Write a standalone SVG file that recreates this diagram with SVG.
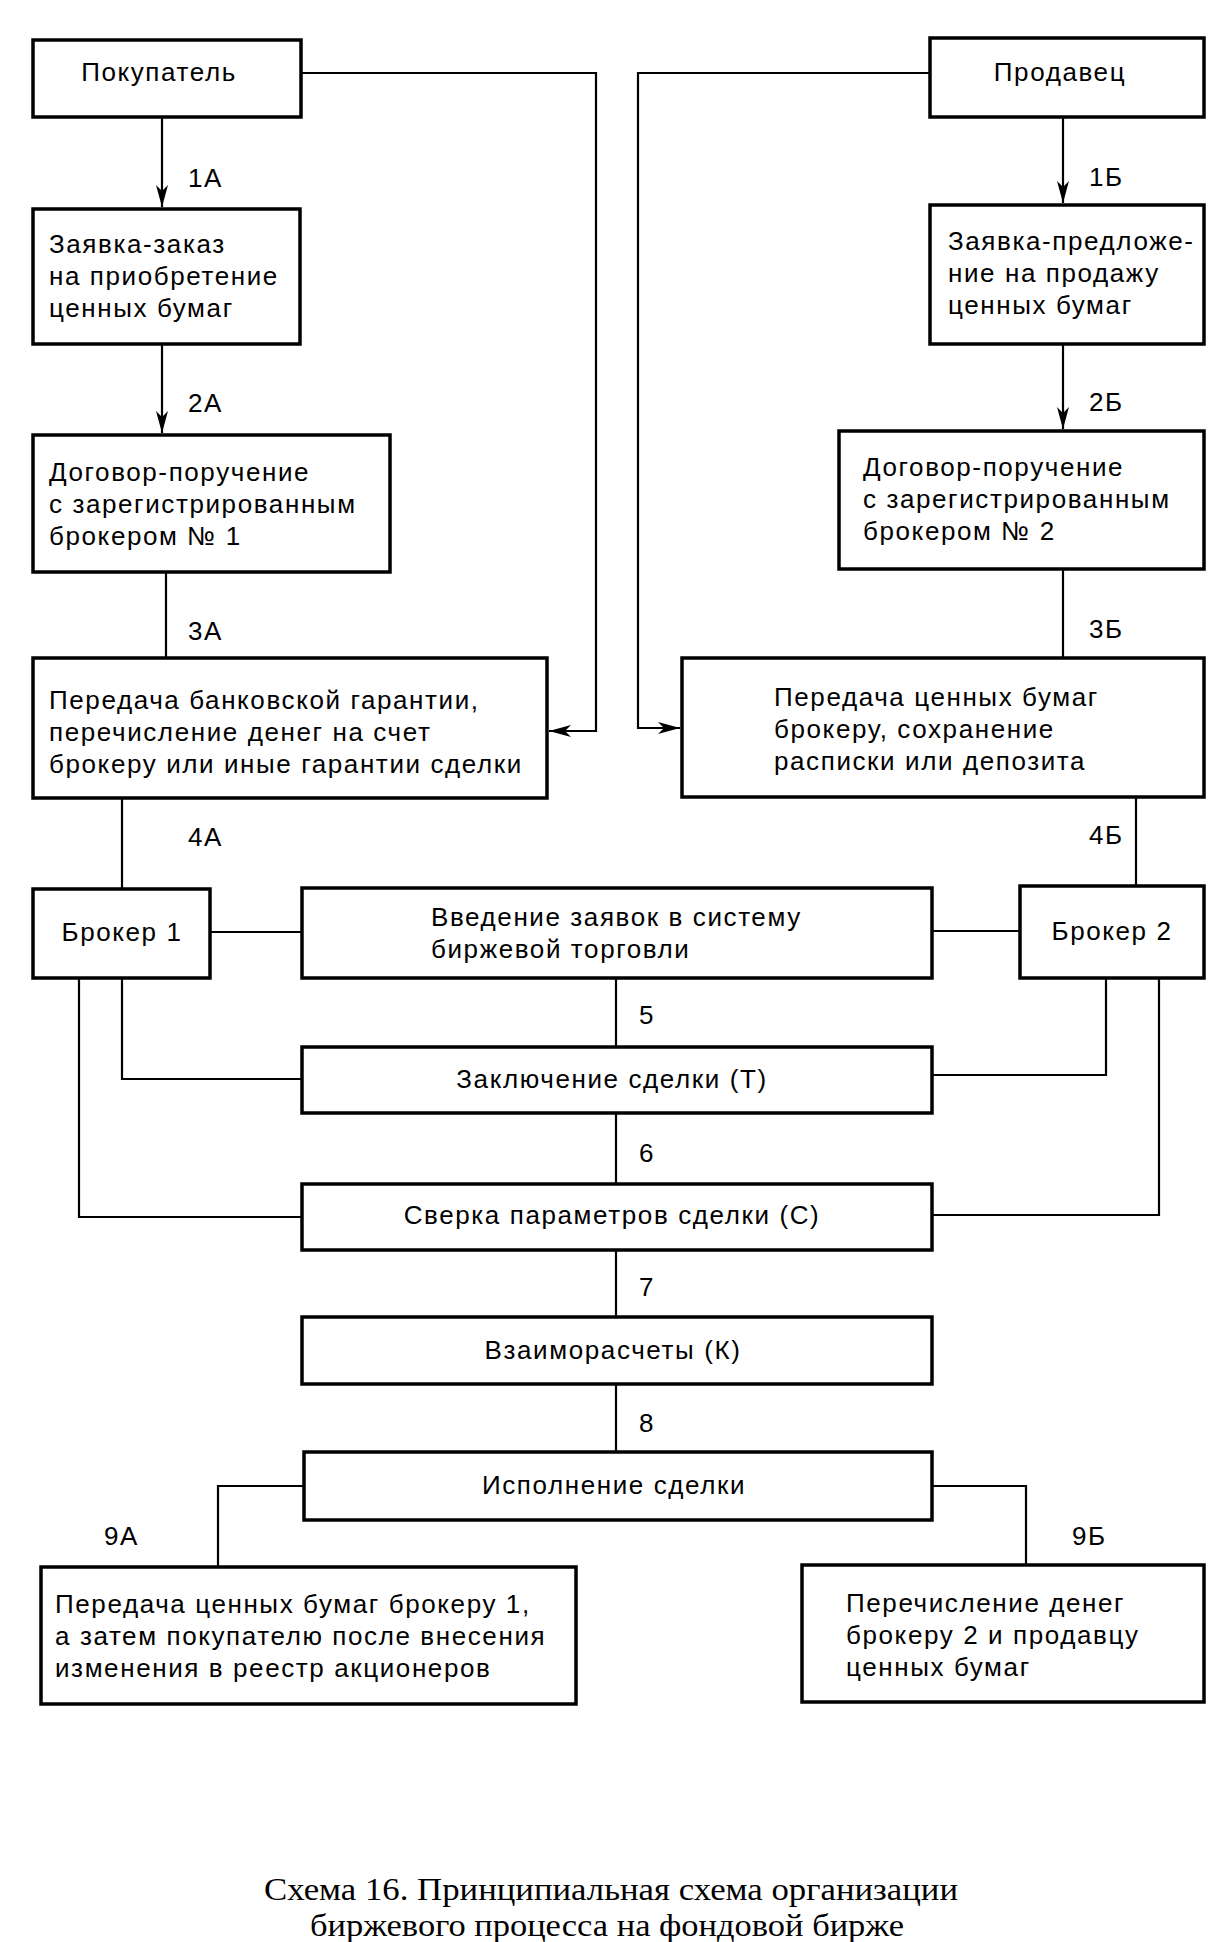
<svg xmlns="http://www.w3.org/2000/svg" width="1224" height="1942" viewBox="0 0 1224 1942">
<style>
.box{fill:#fff;stroke:#000;stroke-width:3.5}
.ln{fill:none;stroke:#000;stroke-width:2.2}
.t{font-family:"Liberation Sans",Arial,sans-serif;font-size:26px;letter-spacing:1.6px;fill:#000}
.c{text-anchor:middle}
.cap{font-family:"Liberation Serif","Times New Roman",serif;font-size:31px;fill:#000;text-anchor:middle}
</style>
<defs>
<marker id="ah" viewBox="0 0 22 12" refX="22" refY="6" markerWidth="22" markerHeight="12" markerUnits="userSpaceOnUse" orient="auto">
<path d="M0,0 L22,6 L0,12 L6,6 Z" fill="#000"/>
</marker>
</defs>
<rect width="1224" height="1942" fill="#fff"/>
<g id="connectors">
<path class="ln" d="M162,117 V207" marker-end="url(#ah)"/>
<path class="ln" d="M162,344 V433" marker-end="url(#ah)"/>
<path class="ln" d="M166,572 V658"/>
<path class="ln" d="M122,798 V889"/>
<path class="ln" d="M210,932 H302"/>
<path class="ln" d="M932,931 H1020"/>
<path class="ln" d="M616,978 V1047"/>
<path class="ln" d="M616,1113 V1184"/>
<path class="ln" d="M616,1250 V1317"/>
<path class="ln" d="M616,1384 V1452"/>
<path class="ln" d="M122,978 V1079 H302"/>
<path class="ln" d="M79,978 V1217 H302"/>
<path class="ln" d="M1106,978 V1075 H932"/>
<path class="ln" d="M1159,978 V1215 H932"/>
<path class="ln" d="M304,1486 H218 V1567"/>
<path class="ln" d="M932,1486 H1026 V1565"/>
<path class="ln" d="M1063,117 V203" marker-end="url(#ah)"/>
<path class="ln" d="M1063,344 V429" marker-end="url(#ah)"/>
<path class="ln" d="M1063,569 V658"/>
<path class="ln" d="M1136,797 V886"/>
<path class="ln" d="M301,73 H596 V731 H549" marker-end="url(#ah)"/>
<path class="ln" d="M930,73 H638 V728 H680" marker-end="url(#ah)"/>
</g>
<g id="labels">
<text class="t" x="188" y="187">1А</text>
<text class="t" x="188" y="412">2А</text>
<text class="t" x="188" y="640">3А</text>
<text class="t" x="188" y="846">4А</text>
<text class="t" x="1089" y="186">1Б</text>
<text class="t" x="1089" y="411">2Б</text>
<text class="t" x="1089" y="638">3Б</text>
<text class="t" x="1089" y="844">4Б</text>
<text class="t" x="639" y="1024">5</text>
<text class="t" x="639" y="1162">6</text>
<text class="t" x="639" y="1296">7</text>
<text class="t" x="639" y="1432">8</text>
<text class="t" x="104" y="1545">9А</text>
<text class="t" x="1072" y="1545">9Б</text>
</g>
<g id="n-buyer">
<rect class="box" x="33" y="40" width="268" height="77"/>
<text class="t c" x="159" y="81">Покупатель</text>
</g>
<g id="n-order">
<rect class="box" x="33" y="209" width="267" height="135"/>
<text class="t" x="49" y="253">Заявка-заказ</text>
<text class="t" x="49" y="285">на приобретение</text>
<text class="t" x="49" y="317">ценных бумаг</text>
</g>
<g id="n-contract1">
<rect class="box" x="33" y="435" width="357" height="137"/>
<text class="t" x="49" y="481">Договор-поручение</text>
<text class="t" x="49" y="513">с зарегистрированным</text>
<text class="t" x="49" y="545">брокером № 1</text>
</g>
<g id="n-guarantee">
<rect class="box" x="33" y="658" width="514" height="140"/>
<text class="t" x="49" y="709">Передача банковской гарантии,</text>
<text class="t" x="49" y="741">перечисление денег на счет</text>
<text class="t" x="49" y="773">брокеру или иные гарантии сделки</text>
</g>
<g id="n-seller">
<rect class="box" x="930" y="38" width="274" height="79"/>
<text class="t c" x="1060" y="81">Продавец</text>
</g>
<g id="n-offer">
<rect class="box" x="930" y="205" width="274" height="139"/>
<text class="t" x="948" y="250">Заявка-предложе-</text>
<text class="t" x="948" y="282">ние на продажу</text>
<text class="t" x="948" y="314">ценных бумаг</text>
</g>
<g id="n-contract2">
<rect class="box" x="839" y="431" width="365" height="138"/>
<text class="t" x="863" y="476">Договор-поручение</text>
<text class="t" x="863" y="508">с зарегистрированным</text>
<text class="t" x="863" y="540">брокером № 2</text>
</g>
<g id="n-securities">
<rect class="box" x="682" y="658" width="522" height="139"/>
<text class="t" x="774" y="706">Передача ценных бумаг</text>
<text class="t" x="774" y="738">брокеру, сохранение</text>
<text class="t" x="774" y="770">расписки или депозита</text>
</g>
<g id="n-broker1">
<rect class="box" x="33" y="889" width="177" height="89"/>
<text class="t c" x="122" y="941">Брокер 1</text>
</g>
<g id="n-input">
<rect class="box" x="302" y="888" width="630" height="90"/>
<text class="t" x="431" y="926">Введение заявок в систему</text>
<text class="t" x="431" y="958">биржевой торговли</text>
</g>
<g id="n-broker2">
<rect class="box" x="1020" y="886" width="184" height="92"/>
<text class="t c" x="1112" y="940">Брокер 2</text>
</g>
<g id="n-deal">
<rect class="box" x="302" y="1047" width="630" height="66"/>
<text class="t c" x="612" y="1088">Заключение сделки (Т)</text>
</g>
<g id="n-check">
<rect class="box" x="302" y="1184" width="630" height="66"/>
<text class="t c" x="612" y="1224">Сверка параметров сделки (С)</text>
</g>
<g id="n-settle">
<rect class="box" x="302" y="1317" width="630" height="67"/>
<text class="t c" x="613" y="1359">Взаиморасчеты (К)</text>
</g>
<g id="n-exec">
<rect class="box" x="304" y="1452" width="628" height="68"/>
<text class="t c" x="614" y="1494">Исполнение сделки</text>
</g>
<g id="n-9a">
<rect class="box" x="41" y="1567" width="535" height="137"/>
<text class="t" x="55" y="1613">Передача ценных бумаг брокеру 1,</text>
<text class="t" x="55" y="1645">а затем покупателю после внесения</text>
<text class="t" x="55" y="1677">изменения в реестр акционеров</text>
</g>
<g id="n-9b">
<rect class="box" x="802" y="1565" width="402" height="137"/>
<text class="t" x="846" y="1612">Перечисление денег</text>
<text class="t" x="846" y="1644">брокеру 2 и продавцу</text>
<text class="t" x="846" y="1676">ценных бумаг</text>
</g>
<g id="caption">
<text class="cap" x="611" y="1900" textLength="694" lengthAdjust="spacingAndGlyphs">Схема 16. Принципиальная схема организации</text>
<text class="cap" x="607" y="1936" textLength="594" lengthAdjust="spacingAndGlyphs">биржевого процесса на фондовой бирже</text>
</g>
</svg>
